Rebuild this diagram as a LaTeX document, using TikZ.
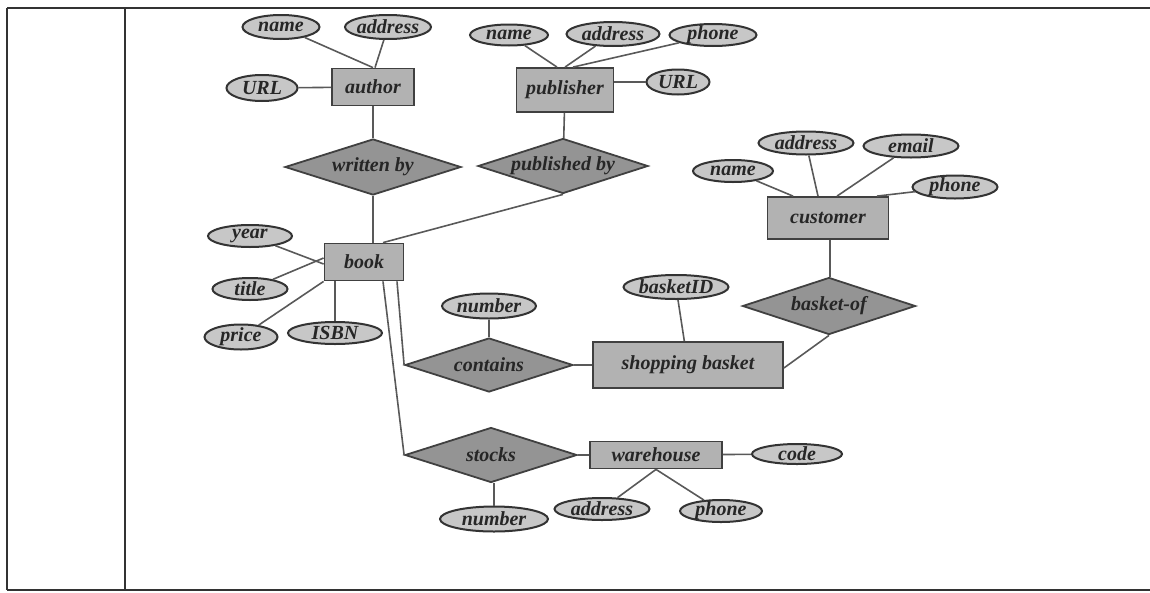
\documentclass[tikz,border=0pt]{standalone}
\usepackage{fontspec}
\setmainfont{Liberation Serif}
\usetikzlibrary{shapes.geometric}
\begin{document}
\begin{tikzpicture}[x=1pt,y=-1pt,
  lbl/.style={font=\fontsize{20}{22}\selectfont\bfseries\itshape, text=black!85, inner sep=0pt},
  ent/.style={lbl, rectangle, draw=black!75, line width=1.8pt, fill=black!30},
  rel/.style={lbl, diamond, aspect=3.2, draw=black!75, line width=1.8pt, fill=black!42},
  att/.style={lbl, ellipse, inner xsep=-9pt, inner ysep=-6pt, draw=black!80, line width=2pt, fill=black!22},
  conn/.style={draw=black!65, line width=1.6pt},
  frame/.style={draw=black!80, line width=1.2pt}]
\useasboundingbox (0,0) rectangle (1150,592);
% frame
\draw[frame] (7,8) -- (1150,8);
\draw[frame] (7,590) -- (1150,590);
\draw[frame] (7,8) -- (7,590);
\draw[frame] (125,8) -- (125,590);

% author group
\node[att, minimum width=77pt, minimum height=24pt] (aname) at (281,27) {name};
\node[att, minimum width=86pt, minimum height=24pt] (aaddr) at (388,27) {address};
\node[att, minimum width=71pt, minimum height=26pt] (aurl) at (262,88) {URL};
\node[ent, minimum width=82pt, minimum height=37pt] (author) at (373,87) {author};
\node[rel, minimum width=176pt, minimum height=56pt] (written) at (373,167) {written by};

% publisher group
\node[att, minimum width=78pt, minimum height=21pt] (pname) at (509,35) {name};
\node[att, minimum width=93pt, minimum height=24pt] (paddr) at (613,34) {address};
\node[att, minimum width=87pt, minimum height=22pt] (pphone) at (713,35) {phone};
\node[ent, minimum width=97pt, minimum height=44pt] (publisher) at (565,90) {publisher};
\node[att, minimum width=63pt, minimum height=25pt] (purl) at (678,82) {URL};
\node[rel, minimum width=170pt, minimum height=55pt] (published) at (563,166) {published by};

% customer group
\node[att, minimum width=80pt, minimum height=22pt] (cname) at (733,171) {name};
\node[att, minimum width=95pt, minimum height=23pt] (caddr) at (806,143) {address};
\node[att, minimum width=95pt, minimum height=23pt] (cemail) at (911,146) {email};
\node[att, minimum width=85pt, minimum height=23pt] (cphone) at (955,187) {phone};
\node[ent, minimum width=121pt, minimum height=42pt] (customer) at (828,218) {customer};
\node[rel, minimum width=173pt, minimum height=57pt] (basketof) at (829,306) {basket-of};

% book group
\node[ent, minimum width=79pt, minimum height=37pt] (book) at (364,262) {book};
\node[att, minimum width=84pt, minimum height=22pt] (year) at (250,236) {year};
\node[att, minimum width=75pt, minimum height=22pt] (title) at (250,289) {title};
\node[att, minimum width=73pt, minimum height=25pt] (price) at (241,337) {price};
\node[att, minimum width=94pt, minimum height=22pt] (isbn) at (335,333) {ISBN};

% shopping basket group
\node[att, minimum width=94pt, minimum height=25pt] (cnumber) at (489,306) {number};
\node[att, minimum width=105pt, minimum height=24pt] (basketid) at (676,287) {basketID};
\node[rel, minimum width=168pt, minimum height=54pt] (contains) at (489,365) {contains};
\node[ent, minimum width=190pt, minimum height=46pt] (sbasket) at (688,365) {shopping basket};

% warehouse group
\node[rel, minimum width=172pt, minimum height=55pt] (stocks) at (491,455) {stocks};
\node[ent, minimum width=132pt, minimum height=27pt] (warehouse) at (656,455) {warehouse};
\node[att, minimum width=90pt, minimum height=20pt] (code) at (797,454) {code};
\node[att, minimum width=108pt, minimum height=25pt] (snumber) at (494,519) {number};
\node[att, minimum width=95pt, minimum height=22pt] (waddr) at (602,509) {address};
\node[att, minimum width=82pt, minimum height=22pt] (wphone) at (721,511) {phone};

% connectors: author
\draw[conn] (aname) -- (author.north);
\draw[conn] (aaddr) -- ([xshift=2pt]author.north);
\draw[conn] (aurl) -- (author);
\draw[conn] (author) -- (written);
% publisher
\draw[conn] (pname) -- ([xshift=-8pt]publisher.north);
\draw[conn] (paddr) -- (publisher.north);
\draw[conn] (pphone) -- ([xshift=8pt]publisher.north);
\draw[conn] (publisher.east |- purl) -- (purl);
\draw[conn] (publisher) -- (published);
% customer
\draw[conn] (cname) -- ([xshift=-35pt]customer.north);
\draw[conn] (caddr) -- ([xshift=-10pt]customer.north);
\draw[conn] (cemail) -- ([xshift=9pt]customer.north);
\draw[conn] (cphone) -- ([xshift=49pt]customer.north);
\draw[conn] ([xshift=2pt]customer.south) -- ([xshift=2pt]customer.south |- basketof.north);
% book
\draw[conn] (written.south) -- (written.south |- book.north);
\draw[conn] ([xshift=19pt]book.north) -- (published.south);
\draw[conn] (year) -- ([yshift=-2pt]book.west);
\draw[conn] (title) -- ([yshift=4pt]book.west);
\draw[conn] (price) -- (book.south west);
\draw[conn] (isbn.north |- book.south) -- (isbn);
\draw[conn] ([xshift=33pt]book.south) -- (contains.west);
\draw[conn] ([xshift=19pt]book.south) -- (stocks.west);
% shopping basket
\draw[conn] (cnumber) -- (contains);
\draw[conn] (contains) -- (sbasket);
\draw[conn] (basketid) -- (sbasket);
\draw[conn] ([yshift=-3pt]sbasket.east) -- (basketof.south);
% warehouse
\draw[conn] (stocks) -- (warehouse);
\draw[conn] (warehouse) -- (code);
\draw[conn] (snumber.north |- stocks.south) -- (snumber);
\draw[conn] (warehouse.south) -- (waddr);
\draw[conn] (warehouse.south) -- (wphone);
\end{tikzpicture}
\end{document}
